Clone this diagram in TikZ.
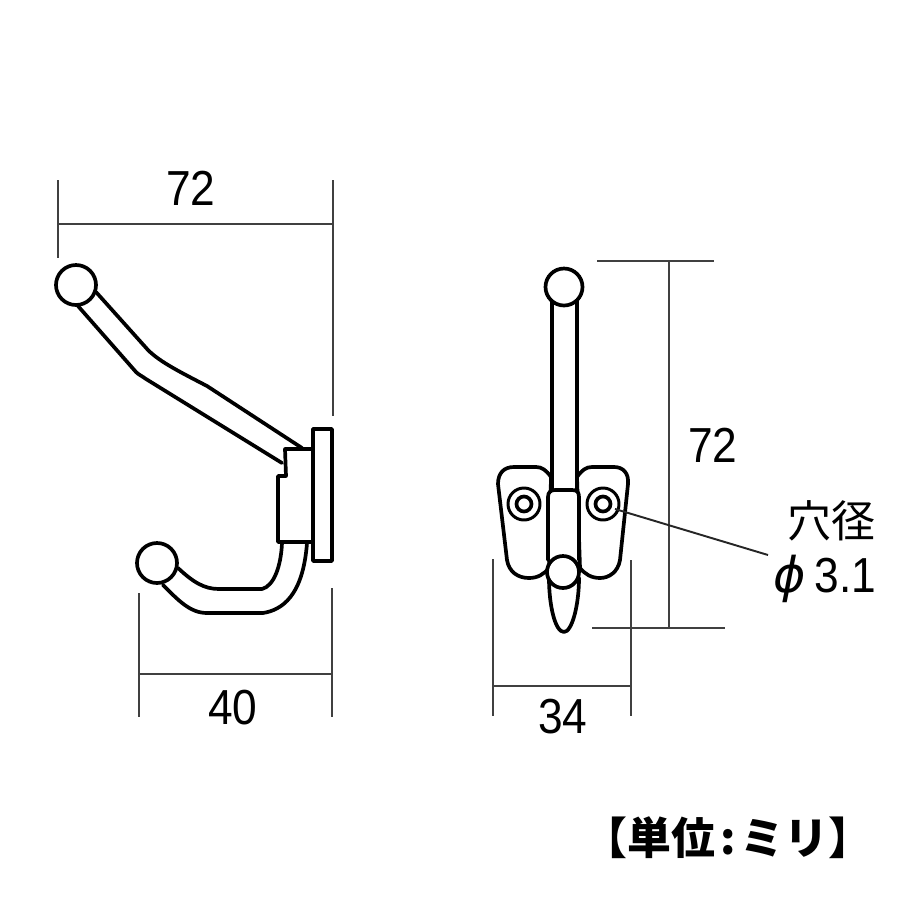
\documentclass[tikz,border=0pt]{standalone}
\usepackage{fontspec}
\setmainfont{Liberation Sans}
\newfontfamily\dimfont[FakeStretch=0.9]{Liberation Sans}
\newfontfamily\phifont{DejaVu Sans}
\newfontfamily\cjk{Noto Sans CJK JP}

\begin{document}
\begin{tikzpicture}[x=0.02cm, y=-0.02cm, thick]
        \tikzstyle{part} = [draw=black, line width=2.1pt, line join=round, line cap=round, fill=white]
        \tikzstyle{edge} = [draw=black, line width=2.1pt, line join=round, line cap=round]
        \tikzstyle{dimline} = [draw=black!75, line width=1.1pt]
        \tikzstyle{dimtext} = [font=\dimfont\fontsize{28}{28}\selectfont, inner sep=0pt]
        \tikzstyle{hole} = [font=\cjk\fontsize{25}{25}\selectfont, inner sep=0pt]
        \useasboundingbox (0,0) rectangle (919,920);

        % side view
        \draw[dimline] (58,180) -- (58,258);
        \draw[dimline] (333,180) -- (333,416);
        \draw[dimline] (58,224) -- (333,224);
        \draw[dimline] (139,593) -- (139,717);
        \draw[dimline] (332,588) -- (332,717);
        \draw[dimline] (139,674) -- (332,674);
        \draw[edge] (96,292) -- (148,350) .. controls (160,362) and (180,372) .. (207,386) -- (302,448);
        \draw[edge] (78,306) -- (136,372) .. controls (139,375) and (142,376) .. (146,379) -- (282,463);
        \draw[edge] (178,568) .. controls (193,582) and (204,589) .. (219,589) -- (262,589) .. controls (274,586) and (281,566) .. (282,543);
        \draw[edge] (163,585) .. controls (178,600) and (190,613) .. (207,613) -- (263,613) .. controls (282,610) and (303,596) .. (307,543);
        \draw[part] (285,449) -- (313,449) -- (313,542) -- (278,542) -- (278,476) -- (286,476) -- cycle;
        \draw[part] (313,429) rectangle (332,561);
        \draw[part] (76,285) circle (20);
        \draw[part] (157,563) circle (20);

        % front view
        \draw[dimline] (597,261) -- (714,261);
        \draw[dimline] (592,628) -- (725,628);
        \draw[dimline] (669,261) -- (669,628);
        \draw[dimline] (493,559) -- (493,716);
        \draw[dimline] (631,560) -- (631,716);
        \draw[dimline] (493,686) -- (631,686);
        \draw[part] (551,477) .. controls (546,470) and (542,467) .. (536,467) -- (514,467) .. controls (504,467) and (498,473) .. (498,484) -- (507,560) .. controls (509,572) and (518,578) .. (529,578) .. controls (538,578) and (544,574) .. (549,568) -- cycle;
        \draw[part] (577,477) .. controls (582,470) and (586,467) .. (592,467) -- (614,467) .. controls (623,467) and (629,473) .. (628,484) -- (620,560) .. controls (618,572) and (609,578) .. (600,578) .. controls (591,578) and (585,574) .. (580,568) -- cycle;
        \draw[part] (549,578) .. controls (549,605) and (555,632) .. (564,632) .. controls (572,632) and (579,605) .. (579,578) -- cycle;
        \draw[part] (552,300) rectangle (577,492);
        \draw[part] (548,560) -- (548,497) .. controls (548,492) and (551,490) .. (555,490) -- (572,490) .. controls (577,490) and (579,492) .. (579,497) -- (579,560);
        \draw[part] (564,287) circle (18.5);
        \draw[part] (563,572) circle (16);
        \foreach \cx in {524,603} {
            \draw[edge, line width=1.7pt] (\cx,504) circle (16);
            \draw[edge, line width=2.1pt] (\cx,504) circle (7.5);
        }

        % labels
        \node[dimtext] (widthtop) at (191,188) {72};
        \node[dimtext] (widthbottom) at (233,708) {40};
        \node[dimtext] (heightright) at (713,445) {72};
        \node[dimtext] (widthfront) at (563,717) {34};
        \node[hole] (holename) at (831,521) {穴径};
        \node[dimtext] (holesize) at (825,579) {{\phifont\itshape ϕ}\,3.1};
        \node[font=\cjk\bfseries\fontsize{25}{25}\selectfont, inner sep=0pt] (unitnote) at (728,838) {【単位\hspace{3pt}:\hspace{3pt}ミリ】};
        \coordinate (holeleft) at (615,509);
        \coordinate (holeend) at (768,555);
        \draw[dimline, draw=black!85] (holeleft) -- (holeend);
    \end{tikzpicture}
\end{document}
